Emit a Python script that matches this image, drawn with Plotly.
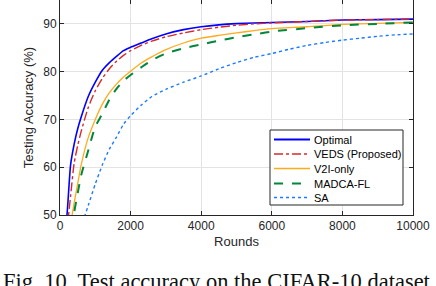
import plotly.graph_objects as go

rounds_main = [100, 200, 300, 400, 500, 600, 800, 1000, 1200, 1400, 1600, 1800, 2000,
               2300, 2600, 3000, 3500, 4000, 4500, 5000, 5500, 6000, 7000, 8000, 9000, 10000]
optimal = [44, 50.2, 60.5, 64.8, 68, 70.5, 74.8, 77.8, 80.3, 81.9, 83.2, 84.4, 85.1,
           86.0, 86.9, 87.9, 88.8, 89.4, 89.8, 90.05, 90.2, 90.3, 90.5, 90.8, 90.9, 91]
veds = [40, 47, 54, 60.8, 64.5, 67.5, 72.5, 76, 78.6, 80.6, 82.2, 83.4, 84.4,
        85.5, 86.4, 87.3, 88.1, 88.8, 89.3, 89.7, 90, 90.2, 90.5, 90.8, 90.9, 91]
v2i_only = [38, 43, 48, 52.5, 56.5, 60.5, 66.2, 70, 73.2, 75.6, 77.4, 78.9, 80.1,
            81.8, 83.1, 84.6, 86, 87, 87.6, 88.1, 88.6, 89, 89.4, 89.9, 90.1, 90.3]
madca_fl = [36, 40.5, 46, 50.5, 54.5, 58.3, 63.5, 68.5, 71.2, 74.2, 76.4, 78.1, 79.3,
            80.9, 82.4, 83.8, 84.9, 85.7, 86.5, 87.2, 87.8, 88.4, 89.1, 89.7, 90, 90.3]
rounds_sa = [100, 300, 500, 600, 800, 1000, 1200, 1400, 1600, 1800, 2000, 2300, 2600, 3000,
             3500, 4000, 4500, 5000, 5500, 6000, 6500, 7000, 7500, 8000, 8500, 9000, 9500, 10000]
sa = [30, 38, 45, 47.5, 52, 56.5, 60.5, 63.8, 66.3, 69, 70.8, 73, 74.8, 76.3,
      77.8, 79.1, 80.6, 81.9, 83, 83.8, 84.7, 85.5, 86.1, 86.6, 87, 87.4, 87.7, 87.9]

x_ticks = [0, 2000, 4000, 6000, 8000, 10000]
y_ticks = [50, 60, 70, 80, 90]

series = [
    ("Optimal", rounds_main, optimal, dict(color="#0000ff", width=1.6, dash="solid")),
    ("VEDS (Proposed)", rounds_main, veds, dict(color="#d62a2a", width=1.4, dash="dashdot")),
    ("V2I-only", rounds_main, v2i_only, dict(color="#ffaa1c", width=1.3, dash="solid")),
    ("MADCA-FL", rounds_main, madca_fl, dict(color="#00873c", width=2, dash="dash")),
    ("SA", rounds_sa, sa, dict(color="#1a7bff", width=1.4, dash="dot")),
]

fig = go.Figure()
for name, xs, ys, ln in series:
    fig.add_trace(go.Scatter(x=xs, y=ys, name=name, mode="lines", showlegend=False,
                             line=dict(shape="spline", smoothing=0.6, **ln)))

axis_common = dict(showline=True, linecolor="#262626", linewidth=1, mirror="ticks",
                   ticks="inside", ticklen=4, tickcolor="#262626", automargin=False,
                   showgrid=True, gridcolor="#e3e3e3", gridwidth=1, zeroline=False,
                   tickfont=dict(family="Liberation Sans, Arial", size=12, color="#262626"))

fig.update_xaxes(range=[0, 10000], tickvals=x_ticks, ticktext=[str(v) for v in x_ticks],
                 title=dict(text="Rounds", font=dict(family="Liberation Sans, Arial", size=13, color="#262626"),
                            standoff=4), **axis_common)
fig.update_yaxes(range=[50, 95], tickvals=y_ticks, ticktext=[str(v) for v in y_ticks],
                 title=dict(text="Testing Accuracy (%)", font=dict(family="Liberation Sans, Arial", size=13, color="#262626"),
                            standoff=6), **axis_common)

# compact legend box (drawn in paper coordinates)
PW, PH, L = 353.0, 215.0, 60.0
def px(x): return (x - L) / PW
def py(y): return 1 - y / PH

shapes = [dict(type="rect", xref="paper", yref="paper", x0=px(270), x1=px(403), y0=py(205), y1=py(130),
               line=dict(color="#262626", width=1), fillcolor="white", layer="above")]
annotations = []
item_y = [139.5, 154, 168.5, 183.5, 197.5]
for (name, xs, ys, ln), yy in zip(series, item_y):
    shapes.append(dict(type="line", xref="paper", yref="paper", x0=px(274), x1=px(310),
                       y0=py(yy), y1=py(yy), layer="above",
                       line=dict(color=ln["color"], width=ln["width"] + (0.4 if name == "Optimal" else 0), dash=ln["dash"])))
    annotations.append(dict(text=name, xref="paper", yref="paper", x=px(311.5), y=py(yy),
                            xanchor="left", yanchor="middle", showarrow=False,
                            font=dict(family="Liberation Sans, Arial", size=11, color="#000000")))

annotations.append(dict(text="Fig. 10. Test accuracy on the CIFAR-10 dataset",
                        xref="paper", yref="paper", x=px(1), y=py(281),
                        xanchor="left", yanchor="middle", showarrow=False,
                        font=dict(family="Liberation Serif, Times New Roman", size=22.5, color="#111111")))

fig.update_layout(
    width=436, height=286,
    margin=dict(l=60, r=23, t=0, b=71, autoexpand=False),
    paper_bgcolor="white", plot_bgcolor="white",
    showlegend=False,
    shapes=shapes,
    annotations=annotations,
)

fig.write_html("out.html", config={"displayModeBar": False},
               post_script="document.body.style.margin='0';document.body.style.overflow='hidden';")
